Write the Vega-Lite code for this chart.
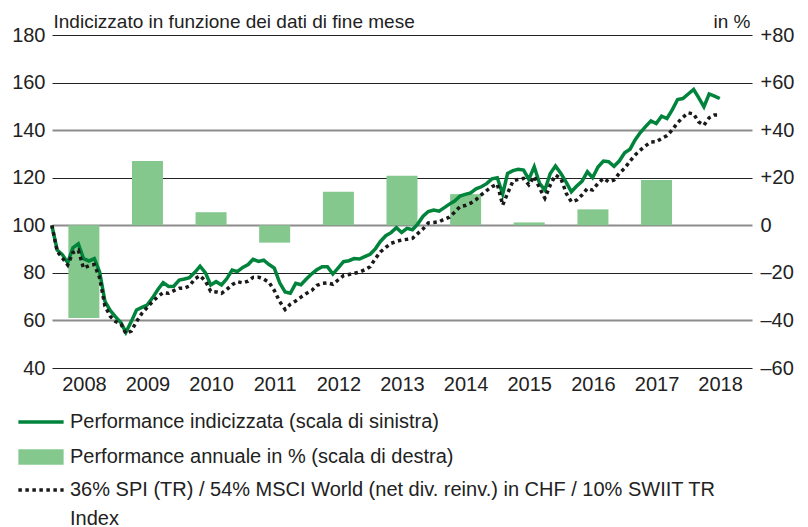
{
  "$schema": "https://vega.github.io/schema/vega-lite/v6.json",
  "width": 700,
  "height": 333,
  "autosize": {"type": "none"},
  "padding": {"left": 52, "top": 35, "right": 56, "bottom": 159},
  "background": "white",
  "config": {
    "font": "Liberation Sans",
    "view": {"stroke": null},
    "style": {"guide-label": {"lineHeight": 29}},
    "axis": {
      "labelFont": "Liberation Sans",
      "labelFontSize": 20,
      "labelColor": "#222222",
      "titleFont": "Liberation Sans",
      "titleFontSize": 19,
      "titleFontWeight": "normal",
      "titleColor": "#222222"
    },
    "legend": {
      "orient": "none",
      "title": null,
      "padding": 0,
      "symbolSize": 32,
      "labelFont": "Liberation Sans",
      "labelFontSize": 20,
      "labelColor": "#222222",
      "labelLimit": 1000,
      "labelBaseline": "middle",
      "labelOffset": 19
    }
  },
  "datasets": {
    "idx": [
      {"d": "2007-12-31", "L": 100, "D": 100},
      {"d": "2008-01-31", "L": 89.6, "D": 89},
      {"d": "2008-02-29", "L": 87.7, "D": 86.3},
      {"d": "2008-03-31", "L": 84.3, "D": 83.3},
      {"d": "2008-04-30", "L": 90.5, "D": 88.5},
      {"d": "2008-05-31", "L": 92.2, "D": 89.5},
      {"d": "2008-06-30", "L": 86, "D": 82},
      {"d": "2008-07-31", "L": 85, "D": 83},
      {"d": "2008-08-31", "L": 86, "D": 83.5},
      {"d": "2008-09-30", "L": 80.5, "D": 78},
      {"d": "2008-10-31", "L": 68, "D": 66},
      {"d": "2008-11-30", "L": 64.2, "D": 61.8},
      {"d": "2008-12-31", "L": 61.5, "D": 59.5},
      {"d": "2009-01-31", "L": 59, "D": 58.5},
      {"d": "2009-02-28", "L": 55, "D": 54.5},
      {"d": "2009-03-31", "L": 59.5, "D": 55.5},
      {"d": "2009-04-30", "L": 64.4, "D": 59.5},
      {"d": "2009-05-31", "L": 65.5, "D": 63},
      {"d": "2009-06-30", "L": 66.5, "D": 65.4},
      {"d": "2009-07-31", "L": 69.5, "D": 67.9},
      {"d": "2009-08-31", "L": 73, "D": 70},
      {"d": "2009-09-30", "L": 75.9, "D": 71.7},
      {"d": "2009-10-31", "L": 74.3, "D": 71.4},
      {"d": "2009-11-30", "L": 74.4, "D": 72.5},
      {"d": "2009-12-31", "L": 77, "D": 73.5},
      {"d": "2010-01-31", "L": 77.4, "D": 73.6},
      {"d": "2010-02-28", "L": 78, "D": 74.5},
      {"d": "2010-03-31", "L": 80.2, "D": 77.5},
      {"d": "2010-04-30", "L": 82.8, "D": 78.8},
      {"d": "2010-05-31", "L": 80, "D": 76.5},
      {"d": "2010-06-30", "L": 74.9, "D": 72.2},
      {"d": "2010-07-31", "L": 76.3, "D": 72},
      {"d": "2010-08-31", "L": 74.9, "D": 71.4},
      {"d": "2010-09-30", "L": 77.5, "D": 73},
      {"d": "2010-10-31", "L": 81.2, "D": 75},
      {"d": "2010-11-30", "L": 80.5, "D": 76.3},
      {"d": "2010-12-31", "L": 82.3, "D": 75.8},
      {"d": "2011-01-31", "L": 83.5, "D": 76.5},
      {"d": "2011-02-28", "L": 85.7, "D": 78.1},
      {"d": "2011-03-31", "L": 84.8, "D": 78.2},
      {"d": "2011-04-30", "L": 85.3, "D": 77.4},
      {"d": "2011-05-31", "L": 83.5, "D": 76},
      {"d": "2011-06-30", "L": 82, "D": 72.6},
      {"d": "2011-07-31", "L": 75.8, "D": 67.9},
      {"d": "2011-08-31", "L": 72, "D": 64.6},
      {"d": "2011-09-30", "L": 71.4, "D": 66.8},
      {"d": "2011-10-31", "L": 75.6, "D": 68.2},
      {"d": "2011-11-30", "L": 75, "D": 69.8},
      {"d": "2011-12-31", "L": 77.4, "D": 71.3},
      {"d": "2012-01-31", "L": 79.6, "D": 72.6},
      {"d": "2012-02-29", "L": 81.3, "D": 74.7},
      {"d": "2012-03-31", "L": 82.6, "D": 75.6},
      {"d": "2012-04-30", "L": 82.6, "D": 75.8},
      {"d": "2012-05-31", "L": 79.5, "D": 75.2},
      {"d": "2012-06-30", "L": 82, "D": 77},
      {"d": "2012-07-31", "L": 84.7, "D": 78.8},
      {"d": "2012-08-31", "L": 85.1, "D": 79.3},
      {"d": "2012-09-30", "L": 86, "D": 79.8},
      {"d": "2012-10-31", "L": 85.8, "D": 80.3},
      {"d": "2012-11-30", "L": 86.8, "D": 81.3},
      {"d": "2012-12-31", "L": 87.8, "D": 82.6},
      {"d": "2013-01-31", "L": 90.2, "D": 86.1},
      {"d": "2013-02-28", "L": 93.2, "D": 88.8},
      {"d": "2013-03-31", "L": 95.6, "D": 90.7},
      {"d": "2013-04-30", "L": 96.9, "D": 92.4},
      {"d": "2013-05-31", "L": 99, "D": 93.2},
      {"d": "2013-06-30", "L": 97, "D": 93.8},
      {"d": "2013-07-31", "L": 98.7, "D": 94.1},
      {"d": "2013-08-31", "L": 98.1, "D": 94.5},
      {"d": "2013-09-30", "L": 100.5, "D": 96.5},
      {"d": "2013-10-31", "L": 103.8, "D": 98.5},
      {"d": "2013-11-30", "L": 105.8, "D": 101},
      {"d": "2013-12-31", "L": 106.4, "D": 101.2},
      {"d": "2014-01-31", "L": 105.9, "D": 101.5},
      {"d": "2014-02-28", "L": 107.3, "D": 102.5},
      {"d": "2014-03-31", "L": 108.9, "D": 103.4},
      {"d": "2014-04-30", "L": 110.2, "D": 105.5},
      {"d": "2014-05-31", "L": 112.3, "D": 107.8},
      {"d": "2014-06-30", "L": 113, "D": 108.3},
      {"d": "2014-07-31", "L": 113.6, "D": 109.3},
      {"d": "2014-08-31", "L": 115.3, "D": 110.8},
      {"d": "2014-09-30", "L": 116.2, "D": 112.8},
      {"d": "2014-10-31", "L": 117.5, "D": 114.6},
      {"d": "2014-11-30", "L": 119.5, "D": 116.2},
      {"d": "2014-12-31", "L": 120, "D": 117.3},
      {"d": "2015-01-31", "L": 113.1, "D": 108.5},
      {"d": "2015-02-28", "L": 121.8, "D": 113.4},
      {"d": "2015-03-31", "L": 123, "D": 118.6},
      {"d": "2015-04-30", "L": 123.5, "D": 119.3},
      {"d": "2015-05-31", "L": 123.2, "D": 119.7},
      {"d": "2015-06-30", "L": 119.3, "D": 117},
      {"d": "2015-07-31", "L": 124.6, "D": 120.5},
      {"d": "2015-08-31", "L": 117.6, "D": 115.6},
      {"d": "2015-09-30", "L": 114.8, "D": 111.4},
      {"d": "2015-10-31", "L": 121.8, "D": 116.9},
      {"d": "2015-11-30", "L": 124.9, "D": 121.1},
      {"d": "2015-12-31", "L": 121.8, "D": 119.7},
      {"d": "2016-01-31", "L": 118, "D": 113.4},
      {"d": "2016-02-29", "L": 114.1, "D": 109.9},
      {"d": "2016-03-31", "L": 116.5, "D": 110.6},
      {"d": "2016-04-30", "L": 118.5, "D": 112.7},
      {"d": "2016-05-31", "L": 122.5, "D": 115.5},
      {"d": "2016-06-30", "L": 120, "D": 114.8},
      {"d": "2016-07-31", "L": 124.5, "D": 117.6},
      {"d": "2016-08-31", "L": 127, "D": 119.7},
      {"d": "2016-09-30", "L": 126.7, "D": 118.3},
      {"d": "2016-10-31", "L": 124.8, "D": 119},
      {"d": "2016-11-30", "L": 127, "D": 121.8},
      {"d": "2016-12-31", "L": 130.5, "D": 124},
      {"d": "2017-01-31", "L": 132, "D": 127},
      {"d": "2017-02-28", "L": 135.8, "D": 129.5},
      {"d": "2017-03-31", "L": 139, "D": 131.6},
      {"d": "2017-04-30", "L": 141.5, "D": 133.4},
      {"d": "2017-05-31", "L": 143.9, "D": 135},
      {"d": "2017-06-30", "L": 142.8, "D": 135.1},
      {"d": "2017-07-31", "L": 145.9, "D": 136.5},
      {"d": "2017-08-31", "L": 144.9, "D": 137.7},
      {"d": "2017-09-30", "L": 148.5, "D": 140.1},
      {"d": "2017-10-31", "L": 152.9, "D": 143.1},
      {"d": "2017-11-30", "L": 153.3, "D": 145.4},
      {"d": "2017-12-31", "L": 155.2, "D": 147.3},
      {"d": "2018-01-31", "L": 157.1, "D": 146.8},
      {"d": "2018-02-28", "L": 153.8, "D": 143.5},
      {"d": "2018-03-31", "L": 149.8, "D": 142.1},
      {"d": "2018-04-30", "L": 155.2, "D": 145.2},
      {"d": "2018-05-31", "L": 154.3, "D": 146.4},
      {"d": "2018-06-30", "L": 153.3, "D": 146.4}
    ],
    "bars": [
      {"d": "2008-07-02", "p": -39},
      {"d": "2009-07-02", "p": 27},
      {"d": "2010-07-02", "p": 5.5},
      {"d": "2011-07-02", "p": -7.3},
      {"d": "2012-07-02", "p": 14.1},
      {"d": "2013-07-02", "p": 20.8},
      {"d": "2014-07-02", "p": 13.1},
      {"d": "2015-07-02", "p": 1.2},
      {"d": "2016-07-02", "p": 6.7},
      {"d": "2017-07-02", "p": 19}
    ]
  },
  "layer": [
    {
      "data": {"name": "bars"},
      "mark": {"type": "bar", "width": 31},
      "encoding": {
        "x": {
          "field": "d", "type": "temporal",
          "scale": {"type": "utc", "padding": 0, "nice": false, "domain": [{"year": 2008, "month": 1, "date": 1, "utc": true}, {"year": 2019, "month": 1, "date": 1, "utc": true}]},
          "axis": {
            "orient": "bottom", "title": null,
            "labelExpr": "utcFormat(datum.value, '%Y')",
            "values": [
              {"year": 2008, "month": 7, "date": 2, "utc": true},
              {"year": 2009, "month": 7, "date": 2, "utc": true},
              {"year": 2010, "month": 7, "date": 2, "utc": true},
              {"year": 2011, "month": 7, "date": 2, "utc": true},
              {"year": 2012, "month": 7, "date": 2, "utc": true},
              {"year": 2013, "month": 7, "date": 2, "utc": true},
              {"year": 2014, "month": 7, "date": 2, "utc": true},
              {"year": 2015, "month": 7, "date": 2, "utc": true},
              {"year": 2016, "month": 7, "date": 2, "utc": true},
              {"year": 2017, "month": 7, "date": 2, "utc": true},
              {"year": 2018, "month": 7, "date": 2, "utc": true}
            ],
            "ticks": false, "domain": false, "grid": false, "labelPadding": 6,
            "labelFlush": false, "labelOverlap": false, "labelAlign": "center"
          }
        },
        "y": {
          "field": "p", "type": "quantitative",
          "scale": {"domain": [-60, 80], "nice": false},
          "axis": {
            "orient": "right", "values": [-60, -40, -20, 0, 20, 40, 60, 80],
            "grid": false, "ticks": false, "domain": false, "labelPadding": 8,
            "labelExpr": "datum.value > 0 ? '+' + datum.value : (datum.value < 0 ? '–' + (-datum.value) : '0')",
            "title": "in %", "titleAngle": 0, "titleX": -2, "titleY": -8,
            "titleAlign": "right", "titleBaseline": "alphabetic"
          }
        },
        "fill": {
          "datum": "Performance annuale in % (scala di destra)",
          "scale": {"range": ["#85c88e"]},
          "legend": {
            "legendX": -21, "legendY": 412,
            "symbolType": "M-8,-2.7H8V2.7H-8Z",
            "symbolStrokeWidth": 0
          }
        }
      }
    },
    {
      "data": {"name": "idx"},
      "encoding": {
        "x": {"field": "d", "type": "temporal", "scale": {"type": "utc", "padding": 0, "nice": false, "domain": [{"year": 2008, "month": 1, "date": 1, "utc": true}, {"year": 2019, "month": 1, "date": 1, "utc": true}]}}
      },
      "layer": [
        {
          "mark": {"type": "line", "strokeWidth": 3.5, "strokeCap": "butt"},
          "encoding": {
            "y": {
              "field": "L", "type": "quantitative",
              "scale": {"domain": [40, 180], "nice": false, "zero": false},
              "axis": {
                "orient": "left", "values": [40, 60, 80, 100, 120, 140, 160, 180],
                "grid": true,
                "gridColor": {"condition": {"test": "datum.value === 60 || datum.value === 100 || datum.value === 140", "value": "#8c8c8c"}, "value": "#222222"},
                "gridWidth": {"condition": {"test": "datum.value === 60 || datum.value === 100 || datum.value === 140", "value": 2}, "value": 1},
                "ticks": false, "domain": false, "labelPadding": 7,
                "title": "Indicizzato in funzione dei dati di fine mese",
                "titleAngle": 0, "titleX": 1, "titleY": -8, "titleAlign": "left", "titleBaseline": "alphabetic"
              }
            },
            "stroke": {
              "datum": "Performance indicizzata (scala di sinistra)",
              "scale": {"range": ["#00843c"]},
              "legend": {
                "legendX": -21, "legendY": 377,
                "symbolType": "M-8,0H8",
                "symbolStrokeWidth": 3.5
              }
            }
          }
        },
        {
          "mark": {"type": "line", "strokeWidth": 3.5, "strokeCap": "butt", "strokeDash": [3.5, 3.5]},
          "encoding": {
            "y": {"field": "D", "type": "quantitative"},
            "color": {
              "datum": "36% SPI (TR) / 54% MSCI World (net div. reinv.) in CHF / 10% SWIIT TR",
              "scale": {"range": ["#1a1a1a"]},
              "legend": {
                "legendX": -21, "legendY": 445,
                "symbolType": "M-8,0H8",
                "symbolStrokeWidth": 3.5,
                "symbolDash": [3.5, 3.5],
                "labelExpr": "[datum.label, 'Index']"
              }
            }
          }
        }
      ]
    }
  ],
  "resolve": {"scale": {"y": "independent"}, "axis": {"y": "independent"}}
}
